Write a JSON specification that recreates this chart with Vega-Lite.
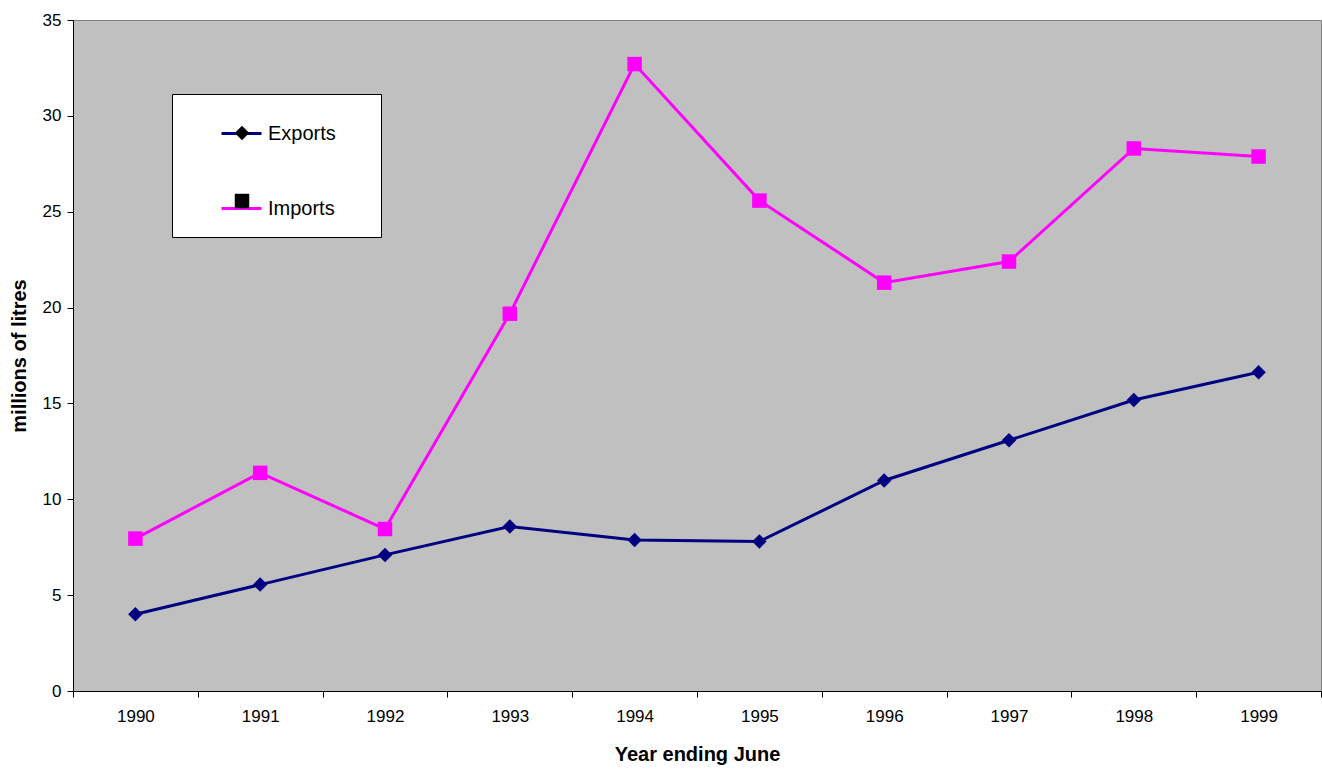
{
  "$schema": "https://vega.github.io/schema/vega-lite/v6.json",
  "width": 1248,
  "height": 671,
  "autosize": {"type": "none"},
  "padding": {"left": 73, "top": 20, "right": 1, "bottom": 79},
  "background": "#ffffff",
  "config": {
    "font": "Liberation Sans",
    "view": {"fill": "#C0C0C0", "stroke": "#808080", "strokeWidth": 1},
    "axis": {
      "domainColor": "#000000",
      "tickColor": "#000000",
      "labelColor": "#000000",
      "titleColor": "#000000",
      "labelFont": "Liberation Sans",
      "titleFont": "Liberation Sans",
      "labelFontSize": 17,
      "titleFontSize": 20,
      "titleFontWeight": "bold",
      "tickSize": 6,
      "grid": false
    }
  },
  "data": {
    "values": [
      {"year": "1990", "series": "Exports", "value": 4.0},
      {"year": "1991", "series": "Exports", "value": 5.55},
      {"year": "1992", "series": "Exports", "value": 7.1},
      {"year": "1993", "series": "Exports", "value": 8.58},
      {"year": "1994", "series": "Exports", "value": 7.88},
      {"year": "1995", "series": "Exports", "value": 7.8},
      {"year": "1996", "series": "Exports", "value": 10.98},
      {"year": "1997", "series": "Exports", "value": 13.08},
      {"year": "1998", "series": "Exports", "value": 15.18},
      {"year": "1999", "series": "Exports", "value": 16.63},
      {"year": "1990", "series": "Imports", "value": 7.95},
      {"year": "1991", "series": "Imports", "value": 11.38},
      {"year": "1992", "series": "Imports", "value": 8.45},
      {"year": "1993", "series": "Imports", "value": 19.68},
      {"year": "1994", "series": "Imports", "value": 32.7},
      {"year": "1995", "series": "Imports", "value": 25.58},
      {"year": "1996", "series": "Imports", "value": 21.3},
      {"year": "1997", "series": "Imports", "value": 22.4},
      {"year": "1998", "series": "Imports", "value": 28.3},
      {"year": "1999", "series": "Imports", "value": 27.88}
    ]
  },
  "encoding": {
    "x": {
      "field": "year",
      "type": "ordinal",
      "scale": {"type": "band", "paddingInner": 0, "paddingOuter": 0},
      "axis": {
        "title": "Year ending June",
        "labelAngle": 0,
        "tickBand": "extent",
        "labelPadding": 11,
        "titlePadding": 20
      }
    },
    "y": {
      "field": "value",
      "type": "quantitative",
      "scale": {"domain": [0, 35], "nice": false, "zero": true},
      "axis": {
        "title": "millions of litres",
        "values": [0, 5, 10, 15, 20, 25, 30, 35],
        "labelPadding": 6,
        "titlePadding": 13
      }
    }
  },
  "layer": [
    {
      "mark": {"type": "line", "strokeWidth": 3},
      "encoding": {
        "color": {
          "field": "series",
          "type": "nominal",
          "scale": {"domain": ["Exports", "Imports"], "range": ["#000080", "#FF00FF"]},
          "legend": {
            "title": " ",
            "titleOrient": "right",
            "titlePadding": 27,
            "orient": "none",
            "legendX": 99,
            "legendY": 74,
            "zindex": 0,
            "fillColor": "#ffffff",
            "strokeColor": "#000000",
            "padding": 18,
            "rowPadding": 43,
            "symbolType": "stroke",
            "symbolSize": 1600,
            "symbolStrokeWidth": 3,
            "symbolOffset": 30,
            "labelOffset": 5,
            "labelFont": "Liberation Sans",
            "labelFontSize": 20,
            "labelColor": "#000000",
            "labelLimit": 300
          }
        }
      }
    },
    {
      "mark": {"type": "point", "filled": true, "opacity": 1, "size": 210},
      "encoding": {
        "color": {
          "field": "series",
          "type": "nominal",
          "scale": {"domain": ["Exports", "Imports"], "range": ["#000080", "#FF00FF"]},
          "legend": null
        },
        "shape": {
          "field": "series",
          "type": "nominal",
          "scale": {"range": ["diamond", "square"]},
          "legend": {
            "title": null,
            "orient": "none",
            "legendX": 99,
            "legendY": 74,
            "zindex": 1,
            "padding": 29,
            "rowPadding": 48,
            "symbolSize": 210,
            "symbolStrokeWidth": 0,
            "symbolOffset": 31,
            "labelOffset": 5,
            "labelFont": "Liberation Sans",
            "labelFontSize": 20,
            "labelOpacity": 0,
            "labelLimit": 300,
            "encode": {
              "symbols": {
                "update": {
                  "fill": {"signal": "datum.value === 'Exports' ? '#000080' : '#FF00FF'"},
                  "fillOpacity": {"value": 1},
                  "opacity": {"value": 1}
                }
              }
            }
          }
        }
      }
    }
  ]
}
